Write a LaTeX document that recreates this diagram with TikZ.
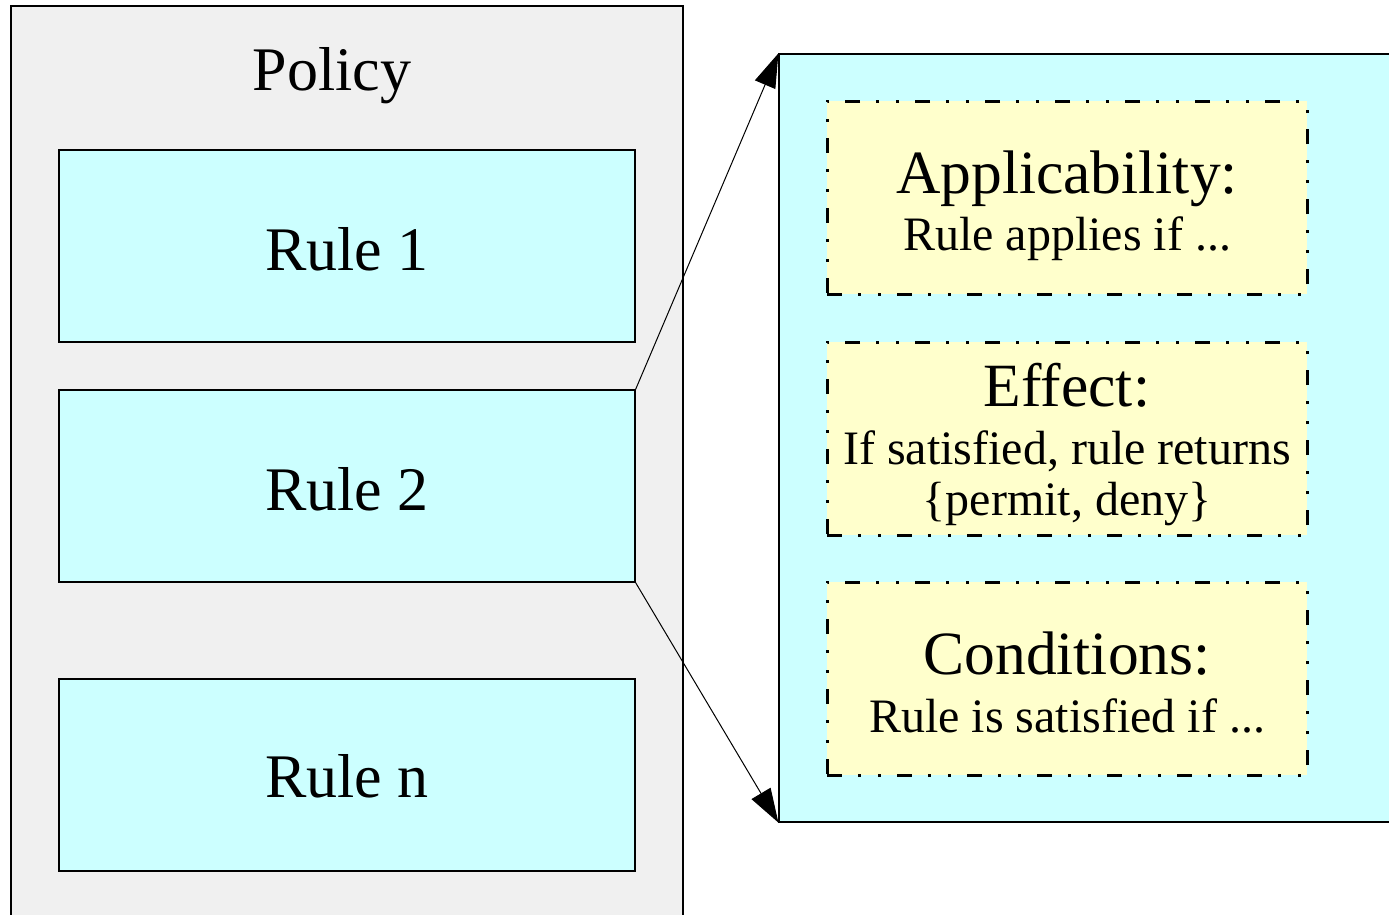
\documentclass[tikz,border=0pt]{standalone}
\usepackage{fontspec}
\setmainfont{Liberation Serif}
\usetikzlibrary{arrows.meta}
\definecolor{policygray}{HTML}{F0F0F0}
\definecolor{rulecyan}{HTML}{CCFFFF}
\definecolor{partyellow}{HTML}{FFFFCC}
\begin{document}
\begin{tikzpicture}[x=1pt,y=-1pt,
  box/.style={draw=black,line width=1.2pt,rectangle,inner sep=0pt},
  policybox/.style={box,fill=policygray,minimum width=672pt,minimum height=924pt},
  rulebox/.style={box,fill=rulecyan,minimum width=576pt,minimum height=192pt},
  detailbox/.style={box,fill=rulecyan,minimum width=621pt,minimum height=768pt},
  partbox/.style={rectangle,inner sep=0pt,fill=partyellow,draw=black,line width=3pt,
     dash pattern=on 15pt off 16pt on 3pt off 17pt on 3pt off 16pt,
     minimum width=480pt,minimum height=193pt},
  bigtxt/.style={anchor=base,inner sep=0pt,font=\fontsize{62}{62}\selectfont},
  headtxt/.style={anchor=base,inner sep=0pt,font=\fontsize{61.5}{61.5}\selectfont},
  subtxt/.style={anchor=base,inner sep=0pt,font=\fontsize{48}{48}\selectfont},
  zoomarrow/.style={line width=1pt,-{Triangle[length=34pt,width=22pt]}}]
\useasboundingbox[fill=white] (0,0) rectangle (1389,914);
% Policy
\node[policybox] (policy) at (347,468) {};
\node[bigtxt] (policytxt) at (332,90) {Policy};
\node[rulebox] (r1) at (347,246) {};
\node[rulebox] (r2) at (347,486) {};
\node[rulebox] (rn) at (347,775) {};
\node[bigtxt] (r1txt) at (347,270) {Rule 1};
\node[bigtxt] (r2txt) at (347,510) {Rule 2};
\node[bigtxt] (rntxt) at (347,797) {Rule n};
% Detail
\node[detailbox] (detail) at (1089.5,438) {};
\node[partbox] (app) at (1067,197.5) {};
\node[partbox] (eff) at (1067,438.5) {};
\node[partbox] (cond) at (1067,678.5) {};
\node[headtxt] (apptxt) at (1067,193) {Applicability:};
\node[subtxt] (appsub) at (1067,250) {Rule applies if ...};
\node[headtxt] (efftxt) at (1067,406) {Effect:};
\node[subtxt] (effsub1) at (1067,464) {If satisfied, rule returns};
\node[subtxt] (effsub2) at (1067,515) {\{permit, deny\}};
\node[headtxt] (condtxt) at (1067,674) {Conditions:};
\node[subtxt] (condsub) at (1067,732) {Rule is satisfied if ...};
% Connectors
\draw[zoomarrow] (r2.north east) -- (detail.north west);
\draw[zoomarrow] (r2.south east) -- (detail.south west);
\end{tikzpicture}
\end{document}
